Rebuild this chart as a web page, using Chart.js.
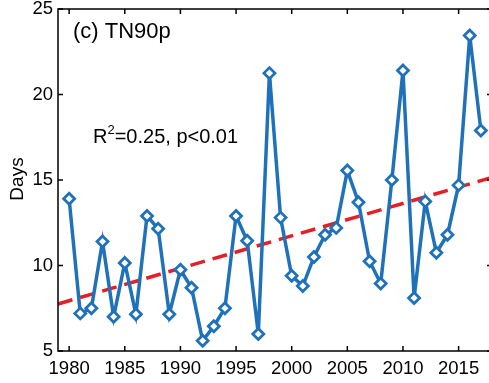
<!DOCTYPE html>
<html>
<head>
<meta charset="utf-8">
<script src="https://cdn.jsdelivr.net/npm/chart.js@4.4.1/dist/chart.umd.min.js"></script>
<style>
  html, body { margin: 0; padding: 0; background: #fff; overflow: hidden; }
  #wrap { width: 492px; height: 383px; }
</style>
</head>
<body>
<div id="wrap"><canvas id="chart" width="492" height="383"></canvas></div>
<script>
// yearly TN90p values
const years = [1980, 1981, 1982, 1983, 1984, 1985, 1986, 1987, 1988, 1989,
  1990, 1991, 1992, 1993, 1994, 1995, 1996, 1997, 1998, 1999,
  2000, 2001, 2002, 2003, 2004, 2005, 2006, 2007, 2008, 2009,
  2010, 2011, 2012, 2013, 2014, 2015, 2016, 2017];
const days = [13.9, 7.2, 7.5, 11.4, 7.0, 10.15, 7.15, 12.9, 12.15, 7.15,
  9.75, 8.7, 5.6, 6.45, 7.5, 12.9, 11.45, 6.0, 21.25, 12.8,
  9.4, 8.8, 10.5, 11.8, 12.2, 15.55, 13.7, 10.25, 8.95, 15.0,
  21.4, 8.1, 13.75, 10.75, 11.8, 14.7, 23.45, 17.9];

// linear trend, end points
const trendYears = [1979, 2018];
const trendDays = [7.75, 15.15];

const xTicks = [1980, 1985, 1990, 1995, 2000, 2005, 2010, 2015];
const yTicks = [5, 10, 15, 20, 25];

const FONT = '"Liberation Sans", Arial, Helvetica, sans-serif';

// inward ticks on all four sides + box + text labels
const decor = {
  id: 'decor',
  afterDraw(chart) {
    const ctx = chart.ctx;
    const a = chart.chartArea;
    const x = chart.scales.x, y = chart.scales.y;
    ctx.save();
    ctx.strokeStyle = '#000';
    ctx.lineWidth = 1.5;
    ctx.strokeRect(a.left, a.top, a.right - a.left, a.bottom - a.top);
    ctx.beginPath();
    xTicks.forEach(v => {
      const px = x.getPixelForValue(v);
      ctx.moveTo(px, a.bottom); ctx.lineTo(px, a.bottom - 5);
      ctx.moveTo(px, a.top); ctx.lineTo(px, a.top + 5);
    });
    yTicks.forEach(v => {
      const py = y.getPixelForValue(v);
      ctx.moveTo(a.left, py); ctx.lineTo(a.left + 5, py);
      ctx.moveTo(a.right, py); ctx.lineTo(a.right - 5, py);
    });
    ctx.stroke();

    ctx.fillStyle = '#000';
    ctx.textBaseline = 'alphabetic';
    ctx.font = '22px ' + FONT;
    ctx.fillText('(c) TN90p', 73, 38);

    ctx.font = '20px ' + FONT;
    let tx = 93;
    const ty = 143;
    ctx.fillText('R', tx, ty);
    tx += ctx.measureText('R').width;
    ctx.font = '13px ' + FONT;
    ctx.fillText('2', tx, ty - 9);
    tx += ctx.measureText('2').width;
    ctx.font = '20px ' + FONT;
    ctx.fillText('=0.25, p<0.01', tx, ty);

    ctx.translate(18, 179);
    ctx.rotate(-Math.PI / 2);
    ctx.textAlign = 'center';
    ctx.textBaseline = 'middle';
    ctx.font = '19px ' + FONT;
    ctx.fillText('Days', 0, 0);
    ctx.restore();
  }
};

new Chart(document.getElementById('chart'), {
  type: 'line',
  data: {
    datasets: [{
      label: 'Trend',
      data: trendYears.map((v, i) => ({ x: v, y: trendDays[i] })),
      borderColor: '#e41f26',
      borderWidth: 3.5,
      borderDash: [15, 8],
      pointRadius: 0,
      fill: false,
      order: 2
    }, {
      label: 'TN90p',
      data: years.map((v, i) => ({ x: v, y: days[i] })),
      borderColor: '#1f72ba',
      backgroundColor: '#ffffff',
      borderWidth: 3.5,
      pointStyle: 'rectRot',
      pointRadius: 5.5,
      pointBorderWidth: 2.8,
      pointBorderColor: '#1f72ba',
      pointBackgroundColor: '#ffffff',
      tension: 0,
      fill: false,
      order: 1
    }]
  },
  options: {
    responsive: false,
    animation: false,
    clip: false,
    layout: { autoPadding: false, padding: { top: 9, right: 0, left: 0, bottom: 0 } },
    plugins: { legend: { display: false }, tooltip: { enabled: false } },
    scales: {
      x: {
        type: 'linear',
        min: 1979,
        max: 2018,
        grid: { display: false, drawTicks: false },
        border: { display: false },
        afterBuildTicks: s => { s.ticks = xTicks.map(v => ({ value: v })); },
        afterFit: s => { s.height = 32; s.paddingLeft = 0; s.paddingRight = 0; },
        ticks: {
          color: '#000',
          font: { family: FONT, size: 18.5 },
          padding: 7,
          maxRotation: 0,
          autoSkip: false,
          callback: v => String(v)
        }
      },
      y: {
        min: 5,
        max: 25,
        grid: { display: false, drawTicks: false },
        border: { display: false },
        afterBuildTicks: s => { s.ticks = yTicks.map(v => ({ value: v })); },
        afterFit: s => { s.width = 58; s.paddingTop = 0; s.paddingBottom = 0; },
        ticks: {
          color: '#000',
          font: { family: FONT, size: 18.5 },
          padding: 5,
          callback: v => String(v)
        }
      }
    }
  },
  plugins: [decor]
});
</script>
</body>
</html>
